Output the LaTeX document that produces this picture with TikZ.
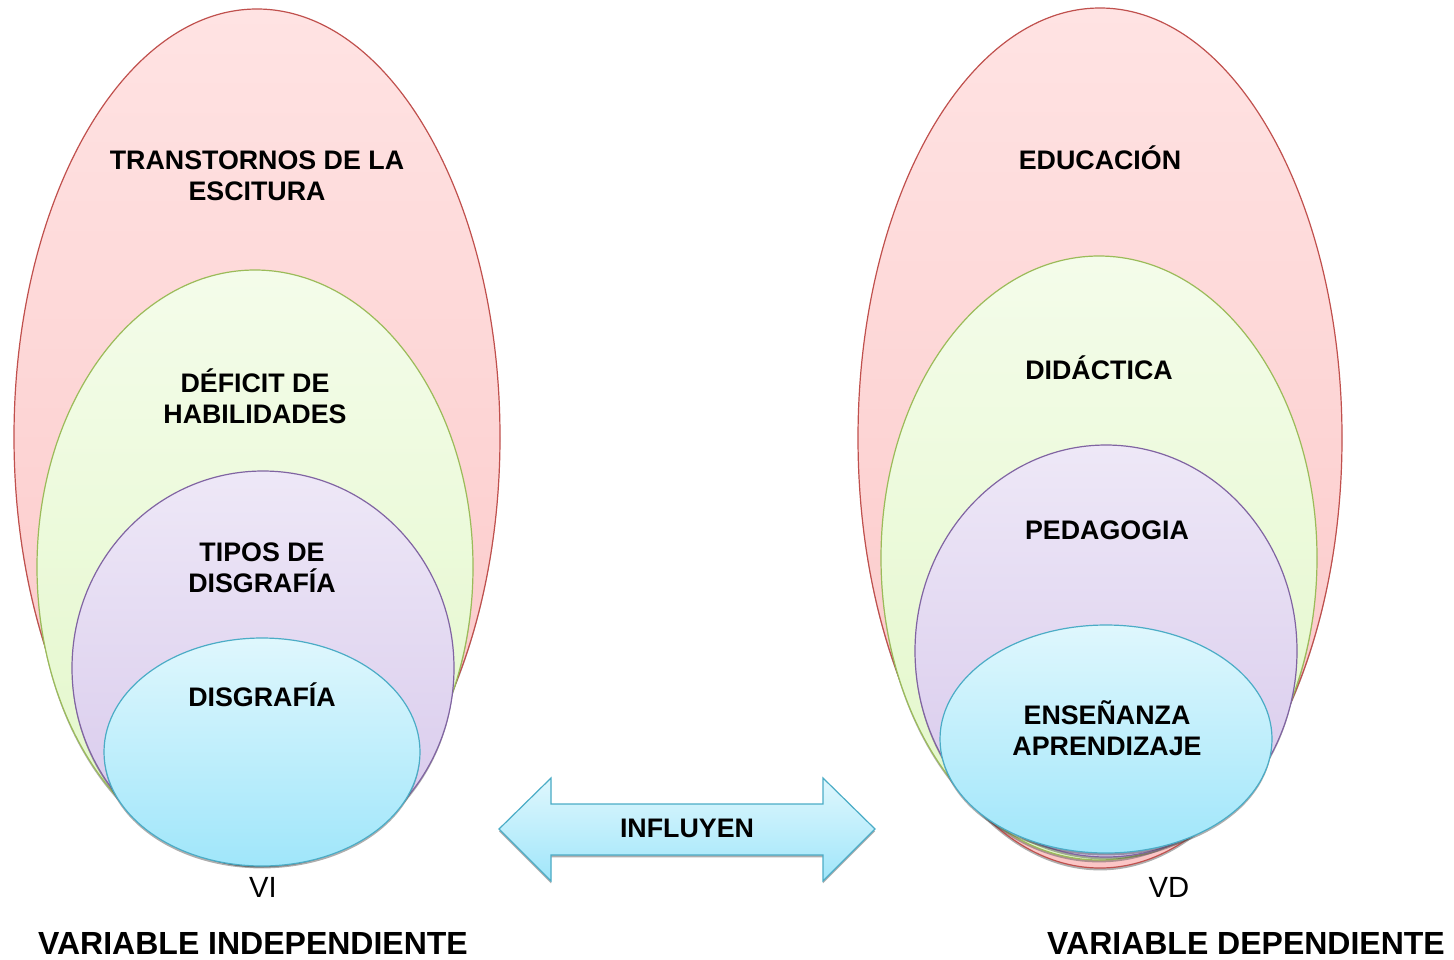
\documentclass[tikz,border=0pt]{standalone}
\usepackage{fontspec}
\setmainfont{Liberation Sans}
\usetikzlibrary{shadows}
\definecolor{redL}{HTML}{C0504D}
\definecolor{grnL}{HTML}{9BBB59}
\definecolor{purL}{HTML}{8064A2}
\definecolor{cyaL}{HTML}{4BACC6}
\definecolor{redT}{HTML}{FFE3E3}
\definecolor{redB}{HTML}{FBC6C6}
\definecolor{grnT}{HTML}{F4FCEA}
\definecolor{grnB}{HTML}{E2F7C8}
\definecolor{purT}{HTML}{EEE8F7}
\definecolor{purB}{HTML}{D6C7EB}
\definecolor{cyaT}{HTML}{DFF7FD}
\definecolor{cyaB}{HTML}{A0E6FA}
\tikzset{
  sh/.style={drop shadow={shadow xshift=0pt,shadow yshift=-1.2pt,opacity=0.45,fill=black!70}},
  redE/.style={draw=redL,line width=0.6pt,top color=redT,bottom color=redB,sh},
  grnE/.style={draw=grnL,line width=0.6pt,top color=grnT,bottom color=grnB,sh},
  purE/.style={draw=purL,line width=0.6pt,top color=purT,bottom color=purB,sh},
  cyaE/.style={draw=cyaL,line width=0.6pt,top color=cyaT,bottom color=cyaB,sh},
  lab/.style={font=\fontsize{13.4pt}{15.5pt}\selectfont\bfseries,align=center,inner sep=0pt},
  big/.style={font=\fontsize{16pt}{18pt}\selectfont\bfseries,inner sep=0pt},
  small/.style={font=\fontsize{14.6pt}{17pt}\selectfont,inner sep=0pt}
}
\begin{document}
\begin{tikzpicture}[x=0.5pt,y=-0.5pt]
\useasboundingbox (0,0) rectangle (1454,959);
% left set
\path[redE] (257,437) ellipse [x radius=243,y radius=428];
\path[grnE] (255,567) ellipse [x radius=218,y radius=297];
\path[purE] (263,668) ellipse [x radius=191,y radius=197];
\path[cyaE] (262,752) ellipse [x radius=158,y radius=114];
% right set
\path[redE] (1100,438) ellipse [x radius=242,y radius=430];
\path[grnE] (1099,558) ellipse [x radius=218,y radius=302];
\path[purE] (1106,651) ellipse [x radius=191,y radius=206];
\path[cyaE] (1106,739) ellipse [x radius=166,y radius=114];
% arrow
\path[cyaE] (499,829) -- (551,778) -- (551,804) -- (823,804) -- (823,778)
  -- (875,829) -- (823,881) -- (823,855) -- (551,855) -- (551,881) -- cycle;
% texts
\node[lab] (t1) at (257,176) {TRANSTORNOS DE LA\\ESCITURA};
\node[lab] (t2) at (255,396) {DÉFICIT DE\\HABILIDADES};
\node[lab] (t3) at (262,568) {TIPOS DE\\DISGRAFÍA};
\node[lab] (t4) at (262,695) {DISGRAFÍA};
\node[lab] (r1) at (1100,158) {EDUCACIÓN};
\node[lab] (r2) at (1099,368) {DIDÁCTICA};
\node[lab] (r3) at (1107,530) {PEDAGOGIA};
\node[lab] (r4) at (1107,728) {ENSEÑANZA\\APRENDIZAJE};
\node[lab] (inf) at (687,828) {INFLUYEN};
\node[small] (vi) at (263,887) {VI};
\node[small] (vd) at (1169,887) {VD};
\node[big] (vi2) at (253,943) {VARIABLE INDEPENDIENTE};
\node[big] (vd2) at (1246,943) {VARIABLE DEPENDIENTE};
\end{tikzpicture}
\end{document}
